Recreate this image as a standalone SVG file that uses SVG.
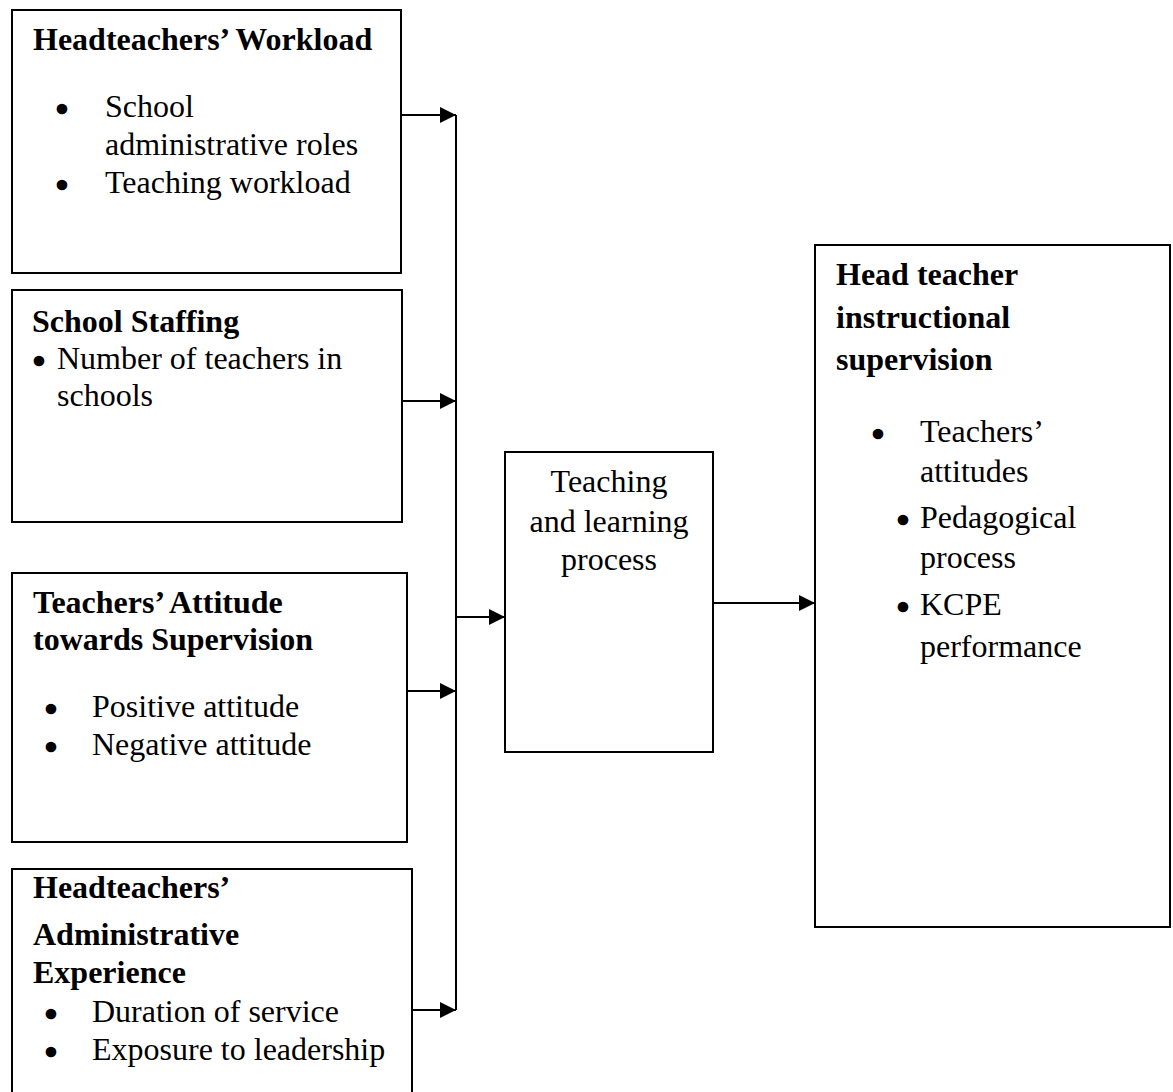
<svg xmlns="http://www.w3.org/2000/svg" width="1173" height="1092" viewBox="0 0 1173 1092">
<style>
.box{fill:#fff;stroke:#000;stroke-width:2}
.t{font-family:"Liberation Serif","Times New Roman",serif;font-size:32px;fill:#000}
.b{font-weight:bold}
.bul{font-family:"Liberation Serif","Times New Roman",serif;font-size:34px;fill:#000;stroke:#000;stroke-width:2.5;text-anchor:middle}
.c{text-anchor:middle}
.ln{fill:none;stroke:#000;stroke-width:2}
</style>
<defs>
<marker id="ah" markerUnits="userSpaceOnUse" markerWidth="16" markerHeight="16" viewBox="0 0 16 16" refX="16" refY="8" orient="auto">
<path d="M0,0 L16,8 L0,16 Z" fill="#000"/>
</marker>
</defs>
<rect width="1173" height="1092" fill="#fff"/>
<g id="node-workload">
<rect class="box" x="12" y="10" width="389" height="263"/>
<text class="t b" x="33" y="50">Headteachers’ Workload</text>
<text class="bul" x="62" y="121">•</text>
<text class="t" x="105" y="117">School</text>
<text class="t" x="105" y="155">administrative roles</text>
<text class="bul" x="62" y="197">•</text>
<text class="t" x="105" y="193">Teaching workload</text>
</g>
<g id="node-staffing">
<rect class="box" x="12" y="290" width="390" height="232"/>
<text class="t b" x="32" y="332">School Staffing</text>
<text class="bul" x="39" y="373">•</text>
<text class="t" x="57" y="369">Number of teachers in</text>
<text class="t" x="57" y="406">schools</text>
</g>
<g id="node-attitude">
<rect class="box" x="12" y="573" width="395" height="269"/>
<text class="t b" x="33" y="613">Teachers’ Attitude</text>
<text class="t b" x="33" y="650">towards Supervision</text>
<text class="bul" x="51" y="721">•</text>
<text class="t" x="92" y="717">Positive attitude</text>
<text class="bul" x="51" y="759">•</text>
<text class="t" x="92" y="755">Negative attitude</text>
</g>
<g id="node-experience">
<rect class="box" x="12" y="869" width="400" height="240"/>
<text class="t b" x="33" y="898">Headteachers’</text>
<text class="t b" x="33" y="945">Administrative</text>
<text class="t b" x="33" y="983">Experience</text>
<text class="bul" x="51" y="1026">•</text>
<text class="t" x="92" y="1022">Duration of service</text>
<text class="bul" x="51" y="1064">•</text>
<text class="t" x="92" y="1060">Exposure to leadership</text>
</g>
<g id="node-process">
<rect class="box" x="505" y="452" width="208" height="300"/>
<text class="t c" x="609" y="492">Teaching</text>
<text class="t c" x="609" y="532">and learning</text>
<text class="t c" x="609" y="570">process</text>
</g>
<g id="node-supervision">
<rect class="box" x="815" y="245" width="355" height="682"/>
<text class="t b" x="836" y="285">Head teacher</text>
<text class="t b" x="836" y="328">instructional</text>
<text class="t b" x="836" y="370">supervision</text>
<text class="bul" x="878" y="446">•</text>
<text class="t" x="920" y="442">Teachers’</text>
<text class="t" x="920" y="482">attitudes</text>
<text class="bul" x="903" y="532">•</text>
<text class="t" x="920" y="528">Pedagogical</text>
<text class="t" x="920" y="568">process</text>
<text class="bul" x="903" y="619">•</text>
<text class="t" x="920" y="615">KCPE</text>
<text class="t" x="920" y="657">performance</text>
</g>
<g id="connectors">
<line class="ln" x1="456" y1="115" x2="456" y2="1010"/>
<line class="ln" x1="401" y1="115" x2="456" y2="115" marker-end="url(#ah)"/>
<line class="ln" x1="402" y1="401" x2="456" y2="401" marker-end="url(#ah)"/>
<line class="ln" x1="407" y1="691" x2="456" y2="691" marker-end="url(#ah)"/>
<line class="ln" x1="412" y1="1010" x2="456" y2="1010" marker-end="url(#ah)"/>
<line class="ln" x1="456" y1="617" x2="505" y2="617" marker-end="url(#ah)"/>
<line class="ln" x1="713" y1="603" x2="815" y2="603" marker-end="url(#ah)"/>
</g>
</svg>
